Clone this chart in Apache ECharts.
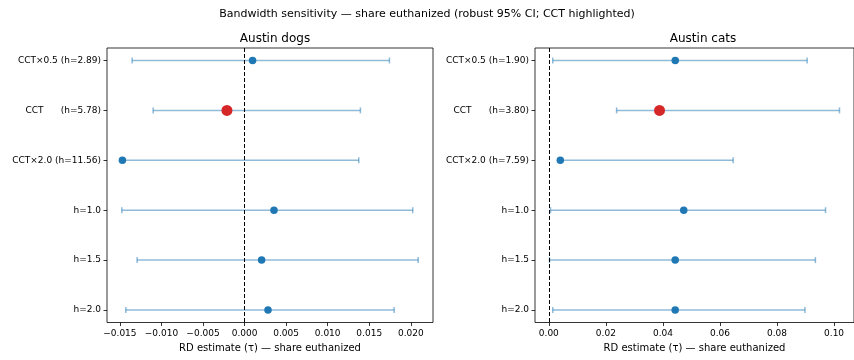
<!DOCTYPE html>
<html>
<head>
<meta charset="utf-8">
<script src="https://cdn.jsdelivr.net/npm/echarts@6/dist/echarts.min.js"></script>
<style>html,body{margin:0;padding:0;background:#fff}#c{width:854px;height:360px}</style>
</head>
<body>
<div id="c"></div>
<script>
// ---- data ----
const dogsLabels = ['CCT\u00d70.5 (h=2.89)', 'CCT      (h=5.78)', 'CCT\u00d72.0 (h=11.56)', 'h=1.0', 'h=1.5', 'h=2.0'];
const catsLabels = ['CCT\u00d70.5 (h=1.90)', 'CCT      (h=3.80)', 'CCT\u00d72.0 (h=7.59)', 'h=1.0', 'h=1.5', 'h=2.0'];
const dogsEst = [0.00096, -0.00212, -0.0147, 0.00354, 0.00205, 0.00282];
const dogsLo  = [-0.01353, -0.0110, -0.0147, -0.01477, -0.01293, -0.01429];
const dogsHi  = [0.01743, 0.01394, 0.01374, 0.02024, 0.02089, 0.01800];
const catsEst = [0.04432, 0.03881, 0.00403, 0.0473, 0.0443, 0.0443];
const catsLo  = [0.00138, 0.02376, 0.0038, 0.00059, 0.00024, 0.00138];
const catsHi  = [0.09056, 0.1019, 0.06463, 0.097, 0.09345, 0.0898];
const cctIndex = 1;
const dogsTicks = [-0.015, -0.010, -0.005, 0.000, 0.005, 0.010, 0.015, 0.020];
const catsTicks = [0.00, 0.02, 0.04, 0.06, 0.08, 0.10];
const rowTicks = [0, 1, 2, 3, 4, 5];
const suptitle = 'Bandwidth sensitivity \u2014 share euthanized (robust 95% CI; CCT highlighted)';
const panelTitles = ['Austin dogs', 'Austin cats'];
const xName = 'RD estimate (\u03c4) \u2014 share euthanized';

// ---- helpers ----
const FONT = 'DejaVu Sans';
const BLUE = '#1f77b4', RED = '#d62728', BAR = 'rgba(31,119,180,0.5)';
function limits(lo, hi) {
  const a = Math.min(...lo), b = Math.max(...hi), m = (b - a) * 0.05;
  return [a - m, b + m];
}
function fmt(v, d) { const s = Math.abs(v).toFixed(d); return (v < -1e-12 ? '\u2212' : '') + s; }

const chart = echarts.init(document.getElementById('c'), null, {renderer: 'canvas'});

const grids = [
  {left: 107, right: 421, top: 48, bottom: 37.5},
  {left: 535, right: -6, top: 48, bottom: 37.5}
];
const panels = [
  {labels: dogsLabels, est: dogsEst, lo: dogsLo, hi: dogsHi, ticks: dogsTicks, dec: 3},
  {labels: catsLabels, est: catsEst, lo: catsLo, hi: catsHi, ticks: catsTicks, dec: 2}
];

const xAxis = [], yAxis = [], series = [];
panels.forEach((p, gi) => {
  const [mn, mx] = limits(p.lo, p.hi);
  xAxis.push({
    type: 'value', gridIndex: gi, min: mn, max: mx, position: 'bottom',
    name: xName, nameLocation: 'middle', nameGap: 21,
    nameTextStyle: {fontFamily: FONT, fontSize: 10, color: '#000'},
    splitLine: {show: false},
    axisLine: {show: false, onZero: false},
    axisTick: {show: true, length: 3.5, lineStyle: {color: '#000', width: 0.8}, customValues: p.ticks},
    axisLabel: {fontFamily: FONT, fontSize: 9, color: '#000', margin: 7, customValues: p.ticks,
      formatter: v => fmt(v, p.dec)}
  });
  yAxis.push({
    type: 'value', gridIndex: gi, min: -0.25, max: 5.25, inverse: true, position: 'left',
    splitLine: {show: false},
    axisLine: {show: false, onZero: false},
    axisTick: {show: true, length: 3.5, lineStyle: {color: '#000', width: 0.8}, customValues: rowTicks},
    axisLabel: {fontFamily: FONT, fontSize: 9, color: '#000', margin: 6, customValues: rowTicks,
      formatter: v => p.labels[Math.round(v)] || ''}
  });
  // error bars
  series.push({
    type: 'custom', xAxisIndex: gi, yAxisIndex: gi, z: 2,
    data: p.lo.map((l, i) => [l, p.hi[i], i]),
    renderItem: (params, api) => {
      const a = api.coord([api.value(0), api.value(2)]);
      const b = api.coord([api.value(1), api.value(2)]);
      const cap = 3;
      const st = {stroke: BAR, lineWidth: 1.5};
      return {type: 'group', children: [
        {type: 'line', shape: {x1: a[0], y1: a[1], x2: b[0], y2: b[1]}, style: st},
        {type: 'line', shape: {x1: a[0], y1: a[1] - cap, x2: a[0], y2: a[1] + cap}, style: st},
        {type: 'line', shape: {x1: b[0], y1: b[1] - cap, x2: b[0], y2: b[1] + cap}, style: st}
      ]};
    },
    markLine: {
      silent: true, symbol: 'none', label: {show: false},
      lineStyle: {color: '#000', width: 1, type: [4, 2]},
      data: [{xAxis: 0}]
    }
  });
  // points
  series.push({
    type: 'scatter', xAxisIndex: gi, yAxisIndex: gi, z: 3,
    data: p.est.map((v, i) => i === cctIndex
      ? {value: [v, i], symbolSize: 11, itemStyle: {color: RED}}
      : {value: [v, i], symbolSize: 7.5, itemStyle: {color: BLUE}}),
    itemStyle: {opacity: 1}
  });
});

chart.setOption({
  animation: false,
  backgroundColor: '#fff',
  title: [
    {text: suptitle, left: 'center', top: 4, textStyle: {fontFamily: FONT, fontSize: 11, fontWeight: 'normal', color: '#000'}},
    {text: panelTitles[0], left: 270, textAlign: 'center', top: 28, textStyle: {fontFamily: FONT, fontSize: 12, fontWeight: 'normal', color: '#000'}},
    {text: panelTitles[1], left: 698, textAlign: 'center', top: 28, textStyle: {fontFamily: FONT, fontSize: 12, fontWeight: 'normal', color: '#000'}}
  ],
  grid: grids.map(g => Object.assign({show: true, borderColor: '#000', borderWidth: 0.8, backgroundColor: 'transparent', containLabel: false}, g)),
  xAxis, yAxis, series
});
</script>
</body>
</html>
